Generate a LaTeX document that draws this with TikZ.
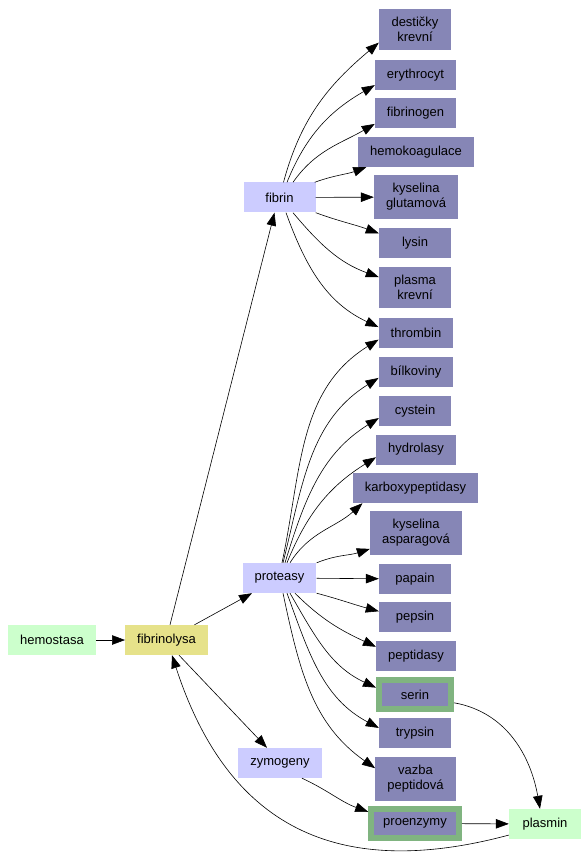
\documentclass[tikz,border=0pt]{standalone}
\usepackage{fontspec}
\setmainfont{Liberation Sans}
\usetikzlibrary{arrows.meta}
\definecolor{termpurple}{RGB}{134,134,182}
\definecolor{termlavender}{RGB}{204,204,255}
\definecolor{termmint}{RGB}{204,255,204}
\definecolor{termkhaki}{RGB}{230,226,138}
\definecolor{termgreen}{RGB}{128,180,128}

\begin{document}
\begin{tikzpicture}[x=1pt,y=1pt,
  term/.style={fill=termpurple, minimum width=72pt, minimum height=30pt,
    inner xsep=12pt, inner ysep=8pt, align=center,
    font=\fontsize{13}{15}\selectfont},
  hub/.style={term, fill=termlavender},
  root/.style={term, fill=termmint},
  hit/.style={term, draw=termgreen, line width=6pt, minimum height=29pt},
  edge/.style={-{Triangle[length=13pt,width=9.5pt]}, line width=0.6pt}]
\useasboundingbox (0,0) rectangle (588,-866);
% Left part
\node[root] (hemostasa) at (52,-640) {hemostasa};
\node[term, fill=termkhaki] (fibrinolysa) at (166.5,-640) {fibrinolysa};
\node[hub] (fibrin) at (279.5,-197.5) {fibrin};
\node[hub] (proteasy) at (279.5,-578) {proteasy};
\node[hub] (zymogeny) at (280,-763) {zymogeny};
\node[root] (plasmin) at (545,-824) {plasmin};
% Right column
\node[term] (desticky) at (415,-29.5) {destičky\\krevní};
\node[term] (erythrocyt) at (415.5,-75) {erythrocyt};
\node[term] (fibrinogen) at (415.5,-113) {fibrinogen};
\node[term] (hemokoagulace) at (416,-152) {hemokoagulace};
\node[term] (kysglut) at (416,-197) {kyselina\\glutamová};
\node[term] (lysin) at (415,-243) {lysin};
\node[term] (plasmakrevni) at (415,-287.5) {plasma\\krevní};
\node[term] (thrombin) at (416,-333) {thrombin};
\node[term] (bilkoviny) at (416,-372) {bílkoviny};
\node[term] (cystein) at (415,-411) {cystein};
\node[term] (hydrolasy) at (416,-449.5) {hydrolasy};
\node[term] (karboxy) at (415.5,-488) {karboxypeptidasy};
\node[term] (kysasp) at (416,-533) {kyselina\\asparagová};
\node[term] (papain) at (415,-579) {papain};
\node[term] (pepsin) at (415,-617) {pepsin};
\node[term] (peptidasy) at (416,-656) {peptidasy};
\node[hit] (serin) at (415,-694.5) {serin};
\node[term] (trypsin) at (415,-733) {trypsin};
\node[term] (vazba) at (415.5,-779) {vazba\\peptidová};
\node[hit] (proenzymy) at (415,-823.5) {proenzymy};
% Main edges
\draw[edge] (hemostasa) -- (fibrinolysa);
\draw[edge] ([xshift=3.5pt]fibrinolysa.north) -- ([xshift=-5pt]fibrin.south);
\draw[edge] ([xshift=28pt]fibrinolysa.north) -- ([xshift=-27.5pt]proteasy.south);
\draw[edge] ([xshift=12.5pt]fibrinolysa.south) -- ([xshift=-13pt]zymogeny.north);
% Fibrin fan
\foreach \t/\a/\dx/\o/\i/\e in {
  desticky/north/4/75/220/200,
  erythrocyt/north/7.5/68/210/194,
  fibrinogen/north/13.5/55/210/195,
  hemokoagulace/north east/-1/20/200/197,
  lysin/south east/0/-20/160/165,
  plasmakrevni/south/13.5/-50/160/164,
  thrombin/south/6.5/-70/155/171}
  \draw[edge] ([xshift=\dx pt]fibrin.\a) to[out=\o,in=\i] (\t.\e);
\draw[edge] (fibrin) -- (kysglut);
% Proteasy fan
\foreach \t/\a/\dx/\o/\i/\e in {
  thrombin/north/2.5/78/212/190,
  bilkoviny/north/3.5/76/212/189,
  cystein/north/5.5/73/212/191,
  hydrolasy/north/7.5/68/212/191,
  karboxy/north/10.5/58/222/196,
  kysasp/north east/0/22/198/199,
  pepsin/south east/0/-15/165/171,
  peptidasy/south/15.5/-45/155/167,
  serin/south/10.5/-60/155/170,
  trypsin/south/7.5/-70/152/172,
  vazba/south/3.5/-78/145/165}
  \draw[edge] ([xshift=\dx pt]proteasy.\a) to[out=\o,in=\i] (\t.\e);
\draw[edge] (proteasy) -- (papain);
% Bottom
\draw[edge] ([xshift=22pt]zymogeny.south) to[out=-25,in=160] (proenzymy.166);
\draw[edge] (proenzymy) -- (plasmin);
\draw[edge] (serin.-12) to[out=-10,in=100] ([xshift=-5pt]plasmin.north);
\draw[edge] (plasmin.197) to[out=195,in=-72,looseness=1.2] ([xshift=5.5pt]fibrinolysa.south);
\end{tikzpicture}
\end{document}
